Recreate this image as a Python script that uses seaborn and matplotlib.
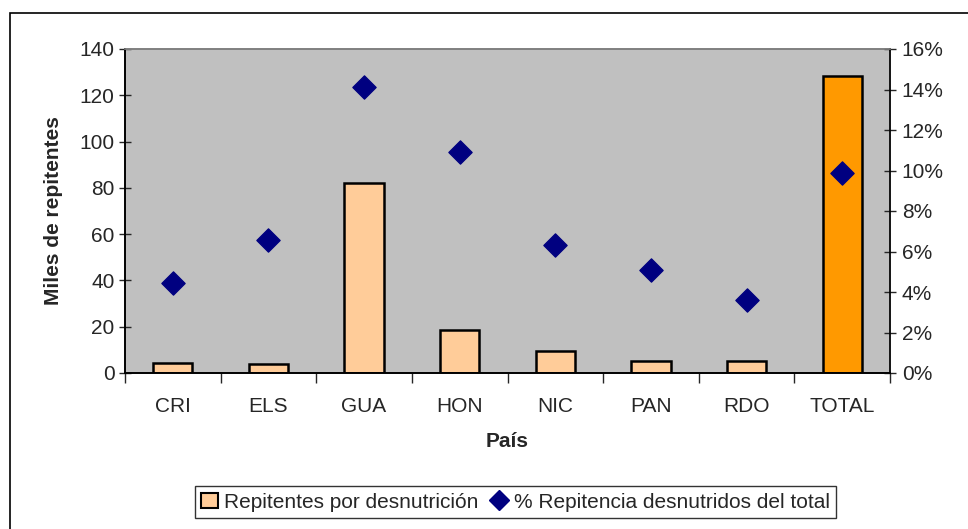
import matplotlib
matplotlib.use('Agg')
import matplotlib.pyplot as plt
import seaborn as sns
from matplotlib.patches import Patch, Rectangle
from matplotlib.lines import Line2D
from matplotlib.ticker import MultipleLocator, FuncFormatter

# datos
paises = ['CRI', 'ELS', 'GUA', 'HON', 'NIC', 'PAN', 'RDO', 'TOTAL']
repitentes = [4.3, 3.9, 82.0, 18.5, 9.5, 5.2, 5.2, 128.5]
pct_repitencia = [4.45, 6.55, 14.1, 10.9, 6.3, 5.1, 3.6, 9.9]
colores = ['#FFCC99'] * 7 + ['#FF9900']

sns.set_style('white')
plt.rcParams['font.family'] = ['Liberation Sans', 'DejaVu Sans']
FS = 15

fig = plt.figure(figsize=(9.68, 5.29), dpi=100)
ax = fig.add_axes([125 / 968, 1 - 373 / 529, 765 / 968, 324 / 529])
ax.set_facecolor('#C0C0C0')

sns.barplot(x=paises, y=repitentes, hue=paises, palette=colores, legend=False,
            edgecolor='black', linewidth=1.8, width=0.41, saturation=1, ax=ax)
ax.set_xlim(-0.5, 7.5)
ax.set_ylim(0, 140)
ax.yaxis.set_major_locator(MultipleLocator(20))
ax.set_xlabel('País', fontsize=FS, fontweight='bold', labelpad=12)
ax.set_ylabel('Miles de repitentes', fontsize=FS, fontweight='bold', labelpad=12)
ax.tick_params(axis='y', direction='inout', length=9, width=1, labelsize=FS, pad=3, left=True)
ax.tick_params(axis='x', which='major', length=0, labelsize=FS, pad=17)
ax.set_xticks([i + 0.5 for i in range(-1, 8)], minor=True)
ax.tick_params(axis='x', which='minor', direction='out', length=7, width=1, bottom=True)

ax2 = ax.twinx()
sns.scatterplot(x=list(range(len(paises))), y=pct_repitencia, marker='D', s=140,
                color='#000080', edgecolor='#000080', ax=ax2, zorder=5)
ax2.set_ylim(0, 16)
ax2.yaxis.set_major_locator(MultipleLocator(2))
ax2.yaxis.set_major_formatter(FuncFormatter(lambda v, p: f'{v:.0f}%'))
ax2.tick_params(axis='y', direction='inout', length=9, width=1, labelsize=FS, pad=4, right=True)
ax2.set_xlim(-0.5, 7.5)

for a in (ax, ax2):
    for s in a.spines.values():
        s.set_color('#808080')
        s.set_linewidth(1.2)
    a.spines['left'].set_color('black')
    a.spines['bottom'].set_color('black')
ax2.spines['right'].set_color('black')

handles = [Patch(facecolor='#FFCC99', edgecolor='black', linewidth=1.5),
           Line2D([], [], marker='D', color='#000080', linestyle='none', markersize=10)]
leg = fig.legend(handles, ['Repitentes por desnutrición', '% Repitencia desnutridos del total'],
                 loc='center right', bbox_to_anchor=(836 / 968, 1 - 502 / 529), ncol=2,
                 fontsize=FS, frameon=True, fancybox=False, handlelength=0.8,
                 handletextpad=0.3, columnspacing=0.6, borderpad=0.3, borderaxespad=0)
leg.get_frame().set_edgecolor('black')
leg.get_frame().set_linewidth(1)

# borde exterior del área del gráfico
fig.patches.append(Rectangle((10 / 968, -0.05), 1.1, 1 - 13 / 529 + 0.05,
                             transform=fig.transFigure, fill=False,
                             edgecolor='black', linewidth=1.2))

fig.savefig('out.png', dpi=100)
